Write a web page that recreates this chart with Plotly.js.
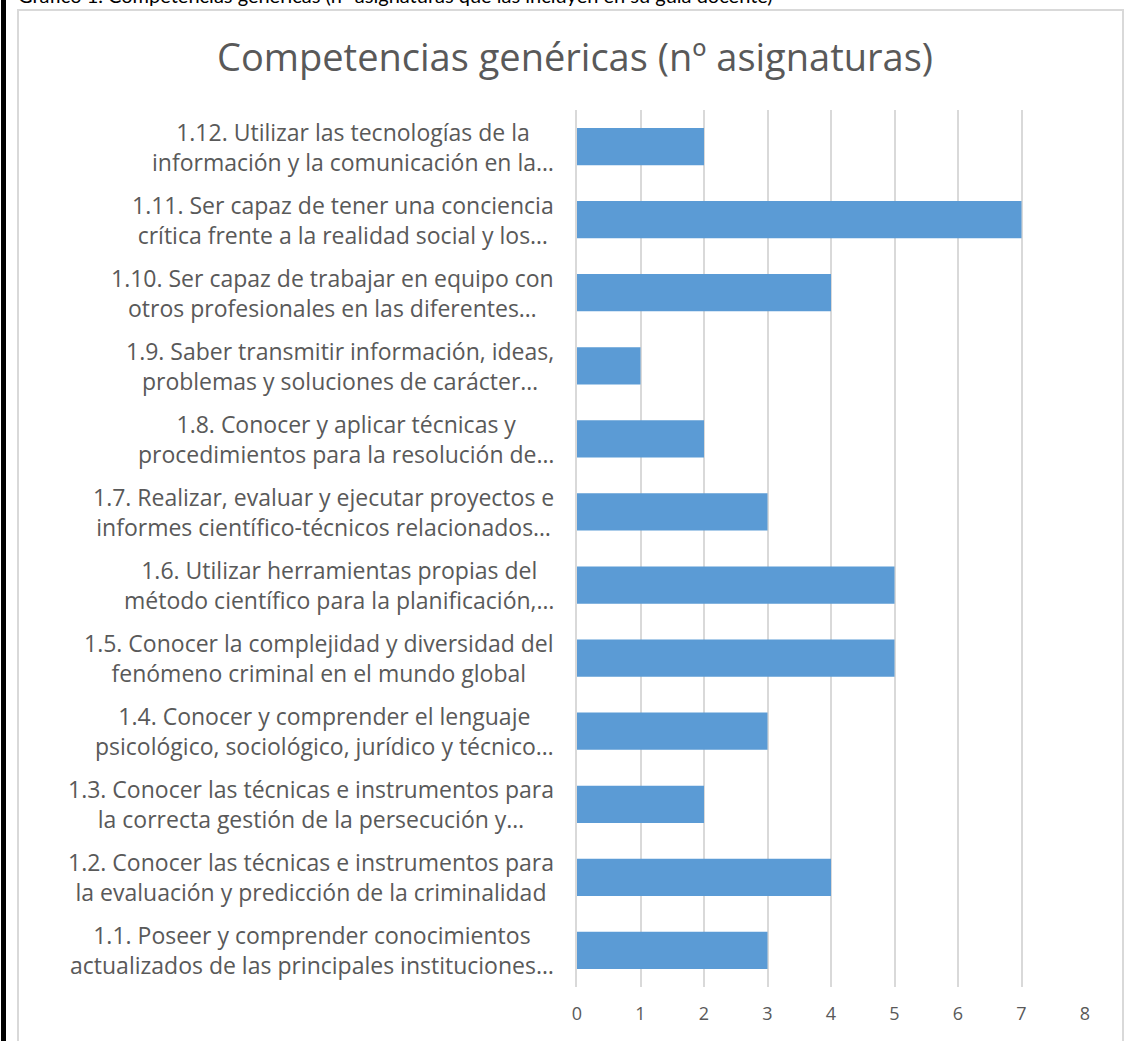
<!DOCTYPE html>
<html>
<head>
<meta charset="utf-8">
<script src="https://cdn.plot.ly/plotly-3.0.1.min.js"></script>
<style>
html,body{margin:0;padding:0;background:#fff;overflow:hidden;}
#chart{width:1143px;height:1041px;}
</style>
</head>
<body>
<div id="chart"></div>
<script>
var caption = "Gráfico 1. Competencias genéricas (nº asignaturas que las incluyen en su guía docente)";
var chartTitle = "Competencias genéricas (nº asignaturas)";
var codes = ["1.1","1.2","1.3","1.4","1.5","1.6","1.7","1.8","1.9","1.10","1.11","1.12"];
var labels = [
  "1.1. Poseer y comprender conocimientos<br>actualizados de las principales instituciones…",
  "1.2. Conocer las técnicas e instrumentos para<br>la evaluación y predicción de la criminalidad",
  "1.3. Conocer las técnicas e instrumentos para<br>la correcta gestión de la persecución y…",
  "1.4. Conocer y comprender el lenguaje<br>psicológico, sociológico, jurídico y técnico…",
  "1.5. Conocer la complejidad y diversidad del<br>fenómeno criminal en el mundo global",
  "1.6. Utilizar herramientas propias del<br>método científico para la planificación,…",
  "1.7. Realizar, evaluar y ejecutar proyectos e<br>informes científico-técnicos relacionados…",
  "1.8. Conocer y aplicar técnicas y<br>procedimientos para la resolución de…",
  "1.9. Saber transmitir información, ideas,<br>problemas y soluciones de carácter…",
  "1.10. Ser capaz de trabajar en equipo con<br>otros profesionales en las diferentes…",
  "1.11. Ser capaz de tener una conciencia<br>crítica frente a la realidad social y los…",
  "1.12. Utilizar las tecnologías de la<br>información y la comunicación en la…"
];
var values = [3,4,2,3,5,5,3,2,1,4,7,2];
var xTicks = [0,1,2,3,4,5,6,7,8];

var W = 1143, H = 1041;
var M = {l:577, r:58, t:110, b:54};
var pw = W - M.l - M.r, ph = H - M.t - M.b;
function px2x(px){ return (px - M.l)/pw; }
function py2y(py){ return (H - M.b - py)/ph; }

var capFont = "Lato, 'Open Sans', sans-serif";
var font = "'Open Sans', sans-serif";

var annotations = codes.map(function(c,i){
  return {
    xref:'paper', yref:'y', x:0, y:i, xanchor:'right', yanchor:'middle',
    xshift:-21, text:labels[i], showarrow:false, align:'center',
    font:{family:font, size:23, color:'#595959'}
  };
});
annotations.push({
  xref:'paper', yref:'paper', x:px2x(16), y:py2y(-5), xanchor:'left', yanchor:'middle',
  text:caption, showarrow:false, font:{family:capFont, size:20, color:'#000000'}
});

var shapes = [
  {type:'rect', xref:'paper', yref:'paper', x0:px2x(18), x1:px2x(1123), y0:py2y(1060), y1:py2y(10),
   line:{color:'#d9d9d9', width:2}, fillcolor:'rgba(0,0,0,0)', layer:'below'},
  {type:'line', xref:'paper', yref:'paper', x0:px2x(3.5), x1:px2x(3.5), y0:py2y(1060), y1:py2y(-20),
   line:{color:'#000000', width:5}}
];

var trace = {
  type:'bar', orientation:'h', x:values, y:codes,
  marker:{color:'#5b9bd5'}, hoverinfo:'x+y'
};

var layout = {
  width:W, height:H, margin:M,
  paper_bgcolor:'#ffffff', plot_bgcolor:'#ffffff',
  showlegend:false, bargap:0.49,
  title:{text:chartTitle, x:575/W, xref:'container', xanchor:'center', y:1-58/H, yanchor:'middle',
         font:{family:font, size:38, color:'#595959'}},
  xaxis:{range:[0,8], tickvals:xTicks, showgrid:true, gridcolor:'#d9d9d9', gridwidth:2,
         zeroline:false, showline:false, ticks:'', ticklen:0, ticklabelstandoff:14,
         tickfont:{family:font, size:18, color:'#595959'}},
  yaxis:{type:'category', categoryorder:'array', categoryarray:codes, showticklabels:false,
         showline:true, linecolor:'#d9d9d9', linewidth:2, showgrid:false, zeroline:false, ticks:''},
  annotations:annotations, shapes:shapes
};
layout.xaxis.automargin = false;
Plotly.newPlot('chart', [trace], layout, {displayModeBar:false, staticPlot:true});
</script>
</body>
</html>
